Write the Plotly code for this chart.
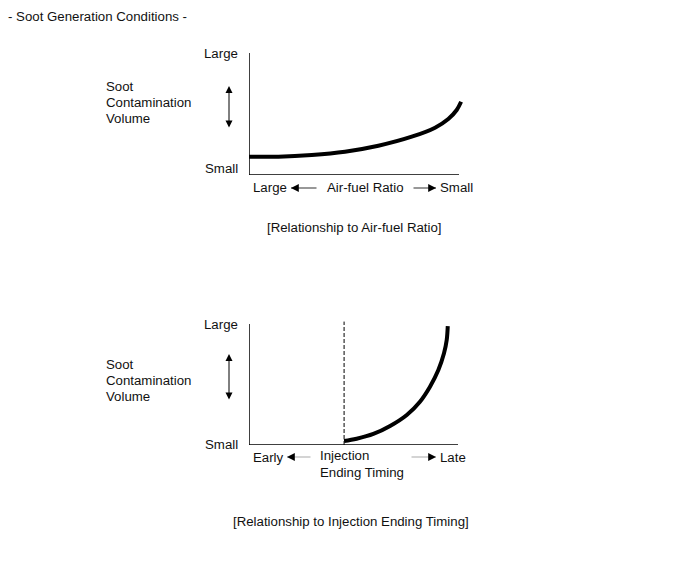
import plotly.graph_objects as go

W, H = 690, 564

# ---- data (normalized 0..10 units) ----
afr_x = [0, 1.4, 2.99, 4.57, 6.16, 7.75, 8.86, 9.49, 9.89, 10.1]
afr_y = [1.5, 1.5, 1.64, 1.91, 2.40, 3.14, 3.88, 4.59, 5.33, 6.0]

inj_x = [4.55, 5.15, 5.95, 6.75, 7.55, 8.18, 8.66, 9.06, 9.33, 9.46, 9.51]
inj_y = [0.33, 0.52, 0.91, 1.57, 2.48, 3.58, 4.82, 6.2, 7.58, 8.68, 9.83]
inj_threshold = 4.55
dash_y = [0, 10.2]

title_text = "- Soot Generation Conditions -"
ylabel_lines = ["Soot", "Contamination", "Volume"]
y_tick_labels = ["Large", "Small"]
top_x_labels = ["Large", "Air-fuel Ratio", "Small"]
bot_x_labels = ["Early", "Injection<br>Ending Timing", "Late"]
captions = ["[Relationship to Air-fuel Ratio]", "[Relationship to Injection Ending Timing]"]

FONT = "Liberation Sans, Arial, sans-serif"
FS = 13.25


def px(x):
    return x / W


def py(y):
    return 1 - y / H


fig = go.Figure()

fig.add_trace(go.Scatter(x=afr_x, y=afr_y, mode="lines", line=dict(color="black", width=4, shape="spline"),
                         xaxis="x", yaxis="y", showlegend=False, hoverinfo="skip"))
fig.add_trace(go.Scatter(x=inj_x, y=inj_y, mode="lines", line=dict(color="black", width=4, shape="spline"),
                         xaxis="x2", yaxis="y2", showlegend=False, hoverinfo="skip"))
fig.add_trace(go.Scatter(x=[inj_threshold, inj_threshold], y=dash_y, mode="lines",
                         line=dict(color="black", width=1, dash="4px,2px"),
                         xaxis="x2", yaxis="y2", showlegend=False, hoverinfo="skip"))

ax_common = dict(visible=False, showgrid=False, zeroline=False, fixedrange=True)

fig.update_layout(
    xaxis=dict(domain=[px(249), px(469)], range=[0, 220 / 21], **ax_common),
    yaxis=dict(domain=[py(175), py(48)], range=[0, 127 / 12.2], **ax_common),
    xaxis2=dict(domain=[px(249), px(469)], range=[0, 220 / 20.9], anchor="y2", **ax_common),
    yaxis2=dict(domain=[py(445), py(318)], range=[0, 127 / 12.1], anchor="x2", **ax_common),
)

shapes = []
for xr, yr in (("x", "y"), ("x2", "y2")):
    shapes.append(dict(type="line", xref=xr, yref=yr, x0=0, x1=10, y0=0, y1=0, line=dict(color="black", width=1.5)))
    shapes.append(dict(type="line", xref=xr, yref=yr, x0=0, x1=0, y0=0, y1=10, line=dict(color="black", width=1.5)))

ann = []


def text(t, x, y, xanchor="left", yanchor="middle", align="left"):
    ann.append(dict(text=t, x=px(x), y=py(y), xref="paper", yref="paper", showarrow=False,
                    xanchor=xanchor, yanchor=yanchor, align=align,
                    font=dict(family=FONT, size=FS, color="#111")))


def harrow(head_x, tail_x, y, line_color):
    ann.append(dict(text="", x=px(head_x), y=py(y), xref="paper", yref="paper", showarrow=True,
                    ax=tail_x - head_x, ay=0, arrowhead=0, arrowwidth=1.2, arrowcolor=line_color))
    d = 7 if tail_x > head_x else -7
    ann.append(dict(text="", x=px(head_x), y=py(y), xref="paper", yref="paper", showarrow=True,
                    ax=d, ay=0, arrowhead=2, arrowsize=1.3, arrowwidth=1.2, arrowcolor="black"))


def varrow(x, y_top, y_bot):
    ann.append(dict(text="", x=px(x), y=py(y_top), xref="paper", yref="paper", showarrow=True,
                    ax=0, ay=y_bot - y_top, arrowhead=2, arrowside="end+start", arrowsize=1.4,
                    arrowwidth=1, arrowcolor="black"))


text(title_text, 6, 16)

# top chart
text(y_tick_labels[0], 240, 53, xanchor="right")
text(y_tick_labels[1], 240, 168, xanchor="right")
for i, line in enumerate(ylabel_lines):
    text(line, 104, 86 + 16.3 * i)
varrow(229, 86, 129)
text(top_x_labels[0], 251, 188)
text(top_x_labels[1], 365.5, 188, xanchor="center")
text(top_x_labels[2], 438, 188)
harrow(291, 318, 188, "#333")
harrow(436, 412, 188, "#333")
text(captions[0], 354, 227, xanchor="center")

# bottom chart
text(y_tick_labels[0], 240, 324, xanchor="right")
text(y_tick_labels[1], 240, 444, xanchor="right")
for i, line in enumerate(ylabel_lines):
    text(line, 104, 364 + 16.3 * i)
varrow(229, 354, 401)
text(bot_x_labels[0], 251, 457)
text(bot_x_labels[1], 318, 464, align="left")
text(bot_x_labels[2], 438, 457)
harrow(287, 312, 457, "#aaa")
harrow(436, 410, 457, "#aaa")
text(captions[1], 351, 521, xanchor="center")

fig.update_layout(
    width=W, height=H, margin=dict(l=0, r=0, t=0, b=0),
    paper_bgcolor="white", plot_bgcolor="white",
    shapes=shapes, annotations=ann, showlegend=False,
)

fig.write_html("out.html", config={"displayModeBar": False})
